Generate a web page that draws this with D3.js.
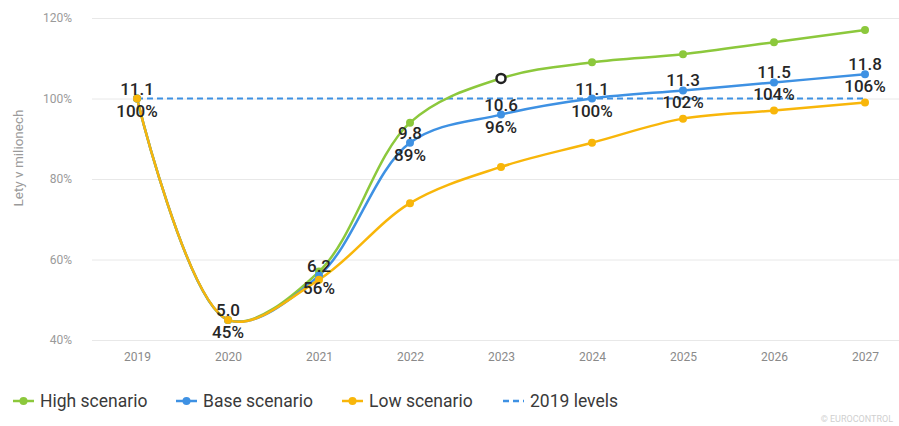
<!DOCTYPE html>
<html>
<head>
<meta charset="utf-8">
<script src="https://cdn.jsdelivr.net/npm/d3@7"></script>
<style>
  html, body { margin: 0; padding: 0; background: #fff; overflow: hidden; }
  svg { display: block; font-family: Roboto, "Noto Sans", Arial, sans-serif; }
</style>
</head>
<body>
<svg id="chart" width="899" height="426"></svg>
<script>
// Flights forecast, share of 2019 traffic (%)
const years = ["2019", "2020", "2021", "2022", "2023", "2024", "2025", "2026", "2027"];
const highScenario = [100, 45, 57, 94, 105, 109, 111, 114, 117];
const baseScenario = [100, 45, 56, 89, 96, 100, 102, 104, 106];
const lowScenario  = [100, 45, 55, 74, 83, 89, 95, 97, 99];
// Base scenario flights, millions
const baseFlights = ["11.1", "5.0", "6.2", "9.8", "10.6", "11.1", "11.3", "11.5", "11.8"];
const yTicks = [40, 60, 80, 100, 120];
const level2019 = 100;

const colors = { high: "#8cc83c", base: "#3e91e3", low: "#f8b60a", ref: "#3e91e3" };

const svg = d3.select("#chart");

const x = d3.scalePoint().domain(years).range([91.5, 910.5]).padding(0.5);
const y = d3.scaleLinear().domain([40, 120]).range([340, 18]);

// Gridlines and y tick labels
const yAxis = d3.axisLeft(y).tickValues(yTicks).tickSize(-820).tickFormat(d => d + "%");
const gy = svg.append("g").attr("transform", "translate(92,0)").call(yAxis);
gy.select(".domain").remove();
gy.selectAll(".tick line").attr("stroke", "#e8e8e8").attr("stroke-width", 1);
gy.selectAll(".tick text").attr("x", -20).attr("fill", "#9a9a9a")
  .attr("font-size", 12).attr("font-family", "Roboto, sans-serif");

// X tick labels
const xAxis = d3.axisBottom(x).tickSize(0).tickPadding(0);
const gx = svg.append("g").attr("transform", "translate(0,352)").call(xAxis);
gx.select(".domain").remove();
gx.selectAll(".tick text").attr("fill", "#8a8a8a").attr("font-size", 12)
  .attr("dy", "0.71em").attr("font-family", "Roboto, sans-serif");

// Y axis title
svg.append("text")
  .attr("transform", "translate(23,158) rotate(-90)")
  .attr("text-anchor", "middle")
  .attr("fill", "#9a9a9a")
  .attr("font-size", 13.5)
  .text("Lety v milionech");

// 2019 reference level
svg.append("line")
  .attr("x1", x(years[0])).attr("x2", x(years[years.length - 1]))
  .attr("y1", y(level2019)).attr("y2", y(level2019))
  .attr("stroke", colors.ref).attr("stroke-width", 2)
  .attr("stroke-dasharray", "6,4");

const line = d3.line()
  .x((d, i) => x(years[i]))
  .y(d => y(d))
  .curve(d3.curveCatmullRom.alpha(0.5));

const series = [
  { key: "high", values: highScenario },
  { key: "base", values: baseScenario },
  { key: "low", values: lowScenario }
];

series.forEach(s => {
  svg.append("path")
    .datum(s.values)
    .attr("fill", "none")
    .attr("stroke", colors[s.key])
    .attr("stroke-width", 2.5)
    .attr("d", line);
});

series.forEach(s => {
  svg.append("g").selectAll("circle")
    .data(s.values)
    .join("circle")
    .attr("cx", (d, i) => x(years[i]))
    .attr("cy", d => y(d))
    .attr("r", 4)
    .attr("fill", colors[s.key]);
});

// Highlighted point on the high scenario (2023)
const hi = years.indexOf("2023");
svg.append("circle")
  .attr("cx", x(years[hi]))
  .attr("cy", y(highScenario[hi]))
  .attr("r", 4.5)
  .attr("fill", "#fff")
  .attr("stroke", "#222")
  .attr("stroke-width", 2.5);

// Base scenario value labels: flights (millions) above, share of 2019 below
const labels = svg.append("g")
  .attr("font-size", 17)
  .attr("font-weight", 500)
  .attr("fill", "#262626")
  .attr("text-anchor", "middle");

baseScenario.forEach((v, i) => {
  const px = x(years[i]), py = y(v);
  labels.append("text").attr("x", px).attr("y", py - 4).text(baseFlights[i]);
  labels.append("text").attr("x", px).attr("y", py + 18).text(v + "%");
});

// Legend
const legendItems = [
  { label: "High scenario", color: colors.high, x: 13, dashed: false },
  { label: "Base scenario", color: colors.base, x: 176, dashed: false },
  { label: "Low scenario", color: colors.low, x: 342, dashed: false },
  { label: "2019 levels", color: colors.ref, x: 503, dashed: true }
];

const legend = svg.append("g").attr("transform", "translate(0,401)");
legendItems.forEach(item => {
  const g = legend.append("g").attr("transform", `translate(${item.x},0)`);
  g.append("line")
    .attr("x1", 0).attr("x2", 21).attr("y1", 0).attr("y2", 0)
    .attr("stroke", item.color)
    .attr("stroke-width", 2.5)
    .attr("stroke-dasharray", item.dashed ? "6,4" : null);
  if (!item.dashed) {
    g.append("circle").attr("cx", 10.5).attr("cy", 0).attr("r", 4).attr("fill", item.color);
  }
  g.append("text")
    .attr("x", 27).attr("y", 0).attr("dy", "0.35em")
    .attr("font-size", 17.5)
    .attr("fill", "#3a3a3a")
    .text(item.label);
});

// Source credit
svg.append("text")
  .attr("x", 893).attr("y", 422)
  .attr("text-anchor", "end")
  .attr("font-size", 9)
  .attr("fill", "#cfcfcf")
  .text("© EUROCONTROL");
</script>
</body>
</html>
